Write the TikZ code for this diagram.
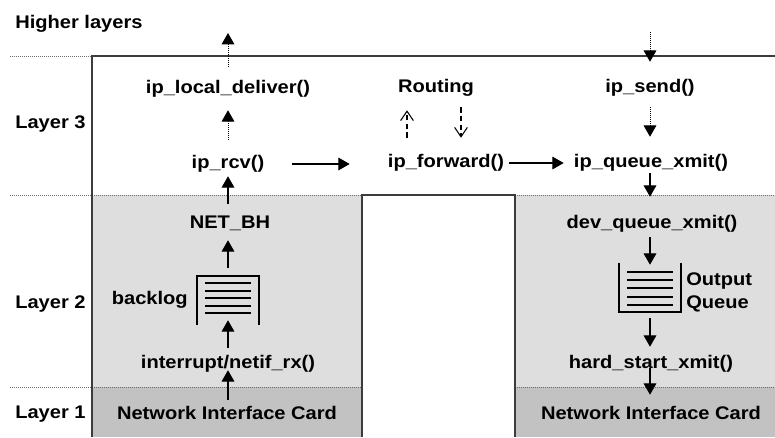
\documentclass[tikz,border=0pt]{standalone}
\usepackage{fontspec}
\setmainfont{Liberation Sans}[FakeStretch=1.1]
\usetikzlibrary{arrows.meta}
\definecolor{ltwo}{HTML}{DEDEDE}
\definecolor{lone}{HTML}{C2C2C2}
\definecolor{edge}{HTML}{3C3C3C}
\begin{document}
\begin{tikzpicture}[x=0.75pt,y=-0.75pt,
  lbl/.style={font=\fontsize{13.7pt}{16pt}\selectfont\bfseries, inner sep=0pt,
    text height=9.75pt, text depth=3pt},
  layer/.style={lbl, anchor=west},
  qtext/.style={font=\fontsize{13.7pt}{17.25pt}\selectfont\bfseries, inner sep=0pt,
    align=left, anchor=west},
  tailgap/.style={shorten <={#1*0.75pt}},
  tipgap/.style={shorten >={#1*0.75pt}},
  solidarrow/.style={-{Triangle[length=8.5pt,width=9.5pt]}, line width=0.8pt},
  dotarrow/.style={solidarrow, line width=0.75pt, dash pattern=on 0.75pt off 0.75pt},
  routearrow/.style={-{Straight Barb[length=7pt,width=9.5pt]}, line width=0.8pt,
    dash pattern=on 4pt off 2.5pt},
  sep/.style={edge!75, line width=0.7pt, dash pattern=on 0.75pt off 0.75pt},
  frame/.style={edge, line width=1.1pt},
  icon/.style={line width=1.3pt},
  qbox/.style={inner sep=0pt, minimum width=46pt, minimum height=36.75pt}
]
\useasboundingbox (0,0) rectangle (775,437);

% layer 2 and layer 1 shading
\fill[ltwo] (92,195) rectangle (362,387);
\fill[lone] (92,387) rectangle (362,437);
\fill[ltwo] (515,195) rectangle (775,387);
\fill[lone] (515,387) rectangle (775,437);

% layer separators
\draw[sep] (10,56) -- (92,56);
\draw[sep] (10,195) -- (362,195);
\draw[sep] (515,195) -- (775,195);
\draw[sep] (10,387) -- (362,387);
\draw[sep] (515,387) -- (775,387);

% outline of the stack
\draw[frame] (92,437) -- (92,56) -- (775,56);
\draw[frame] (362,437) -- (362,195) -- (515,195) -- (515,437);

% layer labels
\node[layer] (hl) at (15,24) {Higher layers};
\node[layer] (l3) at (15,124) {Layer 3};
\node[layer] (l2) at (15,304) {Layer 2};
\node[layer] (l1) at (15,414) {Layer 1};

% receive path
\node[lbl] (ld) at (228,89) {ip\_local\_deliver()};
\node[lbl] (rcv) at (228,164) {ip\_rcv()};
\node[lbl] (netbh) at (230,224) {NET\_BH};
\node[qbox] (bl) at (228,300.5) {};
\node[lbl, anchor=east] (blt) at (188,300) {backlog};
\node[lbl] (irq) at (228,364) {interrupt/netif\_rx()};
\node[lbl] (nicl) at (227,415) {Network Interface Card};
\coordinate (upper) at (228,33);

% forwarding and transmit path
\node[lbl] (rt) at (436,88) {Routing};
\node[lbl] (fwd) at (446,163) {ip\_forward()};
\node[lbl] (send) at (650,88) {ip\_send()};
\node[lbl] (qx) at (651,163) {ip\_queue\_xmit()};
\node[lbl] (dqx) at (652,224) {dev\_queue\_xmit()};
\node[qbox] (oq) at (650,287.5) {};
\node[qtext] (oqt) at (686,292.5) {Output\\Queue};
\node[lbl] (hs) at (651,364) {hard\_start\_xmit()};
\node[lbl] (nicr) at (651,415) {Network Interface Card};
\coordinate (lower) at (650,32);

% backlog queue glyph (open at the bottom)
\draw[icon] (bl.south west) -- (bl.north west) -- (bl.north east) -- (bl.south east);
\foreach \y in {283,291,298,306,313}
  \draw[icon] (205,\y) -- (251,\y);

% output queue glyph (open at the top)
\draw[icon] (oq.north west) -- (oq.south west) -- (oq.south east) -- (oq.north east);
\foreach \y in {272,280,288,297,305}
  \draw[icon] (627,\y) -- (673,\y);

% receive path connectors
\draw[dotarrow, tailgap=13.5] (ld.north) -- (upper);
\draw[dotarrow, tailgap=15.5, tipgap=12.5] (rcv.north) -- (ld.south);
\draw[solidarrow, tailgap=11.5, tipgap=3.5] (netbh.north -| rcv) -- (rcv.south);
\draw[solidarrow, tailgap=8, tipgap=7.5] (bl.north) -- (netbh.south -| bl);
\draw[solidarrow, tailgap=7.5, tipgap=-5] (irq.north) -- (bl.south);
\draw[solidarrow, tailgap=6.5, tipgap=-2.5] (irq.south |- nicl.north) -- (irq.south);

% forwarding connectors
\draw[solidarrow, tailgap=27, tipgap=38] (rcv.east) -- (rcv.east -| fwd.west);
\draw[solidarrow, tailgap=5, tipgap=10] (fwd.east) -- (fwd.east -| qx.west);
\draw[routearrow, tailgap=16.5, tipgap=13.5] ([xshift=-39*0.75pt]fwd.north) -- ([xshift=-29*0.75pt]rt.south);
\draw[routearrow, tailgap=10.5, tipgap=16.5] ([xshift=25*0.75pt]rt.south) -- ([xshift=15*0.75pt]fwd.north);

% transmit path connectors
\draw[dotarrow, tipgap=17.5] (lower) -- (send.north);
\draw[dotarrow, tailgap=10.5, tipgap=17.5] (send.south) -- (send.south |- qx.north);
\draw[solidarrow, tailgap=1.5, tipgap=18.5] (send.south |- qx.south) -- (send.south |- dqx.north);
\draw[solidarrow, tailgap=4.5, tipgap=-2] (oq.north |- dqx.south) -- (oq.north);
\draw[solidarrow, tailgap=6, tipgap=8.5] (oq.south) -- (oq.south |- hs.north);
\draw[solidarrow, tailgap=-4.5, tipgap=11.5] (oq.south |- hs.south) -- (oq.south |- nicr.north);
\end{tikzpicture}
\end{document}
